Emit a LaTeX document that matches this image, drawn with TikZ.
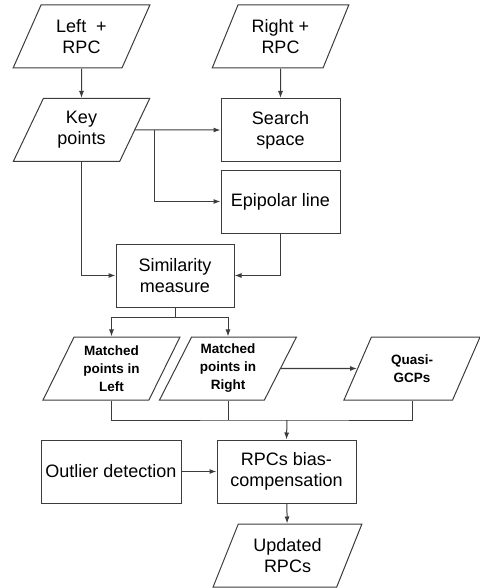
\documentclass[tikz,border=0pt]{standalone}
\usepackage{fontspec}
\setmainfont{Liberation Sans}
\usetikzlibrary{shapes.geometric,arrows.meta}
\definecolor{linegray}{RGB}{60,60,60}
\begin{document}
\begin{tikzpicture}[x=1pt,y=-1pt,>={Latex[length=7pt,width=5pt]},line width=1pt,
    link/.style={draw=linegray},
    box/.style={draw=linegray,rectangle,minimum height=63pt,inner sep=0pt,align=center,
      font=\fontsize{18}{21}\selectfont},
    data/.style={draw=linegray,trapezium,trapezium left angle=63,trapezium right angle=117,
      trapezium stretches=true,minimum height=63pt,minimum width=137pt,inner sep=0pt,
      align=center,font=\fontsize{18}{21}\selectfont},
    small/.style={font=\fontsize{13.5}{18}\selectfont\bfseries}]
  \useasboundingbox (0,0) rectangle (479,588);
  \node[data] (left) at (81.5,36.5) {Left\ \ +\\RPC};
  \node[data] (right) at (280.5,36.5) {Right +\\RPC};
  \node[data] (key) at (81.5,130) {Key\\points};
  \node[box,minimum width=119pt] (search) at (280.5,130) {Search\\space};
  \node[box,minimum width=119pt] (epi) at (280.5,201.5) {Epipolar line};
  \node[box,minimum width=118pt] (sim) at (175,275.5) {Similarity\\measure};
  \node[data,small] (mleft) at (111.5,368.5) {Matched\\points in\\Left};
  \node[data,small] (mright) at (228,368.5) {Matched\\points in\\Right};
  \node[data,small] (quasi) at (412,368.5) {Quasi-\\GCPs};
  \node[box,minimum width=140pt] (outlier) at (111,471.5) {Outlier detection};
  \node[box,minimum width=139pt] (rpcs) at (286.5,471.5) {RPCs bias-\\compensation};
  \node[data,minimum width=149pt] (updated) at (287.5,555.5) {Updated\\RPCs};
  \coordinate (br) at (154,130);
  \coordinate (split) at (175,317);
  \coordinate (join) at (287,420);
  \draw[link,->] (left) -- (key);
  \draw[link,->] (right) -- (search);
  \draw[link,->] (key.east) -- (search.west);
  \draw[link,->] (br) |- (epi.west);
  \draw[link,->] (key.south) |- (sim.west);
  \draw[link,->] (epi.south) |- (sim.east);
  \draw[link] (sim.south) -- (split);
  \draw[link,->] (split) -| (mleft.north);
  \draw[link,->] (split) -| (mright.north);
  \draw[link,->,line width=1.4pt] (mright.east) -- (quasi.west);
  \draw[link] (mleft.south) |- (join) -| (quasi.south);
  \draw[link] (mright.south) -- (mright.south |- join);
  \draw[link,->] (join) -- (rpcs.north);
  \draw[link,->] (outlier) -- (rpcs);
  \draw[link,->] (rpcs) -- (updated);
\end{tikzpicture}
\end{document}
